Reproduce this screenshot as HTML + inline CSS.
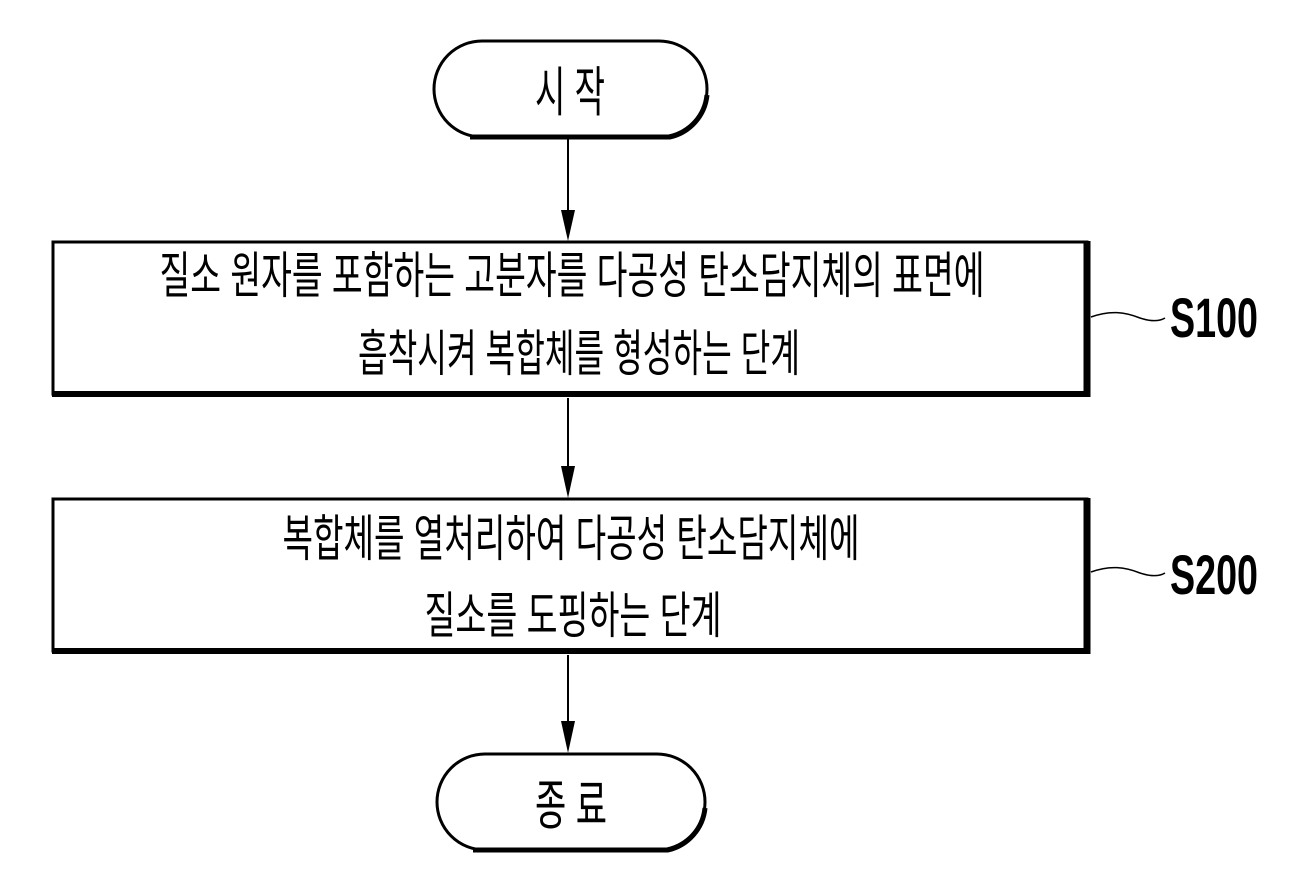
<!DOCTYPE html>
<html><head><meta charset="utf-8"><style>
html,body{margin:0;padding:0;background:#fff;}
svg{display:block;}
text{font-family:"Liberation Sans","Noto Sans CJK KR","NanumGothic",sans-serif;fill:#000;}
</style></head><body>
<svg width="1314" height="875" viewBox="0 0 1314 875" xmlns="http://www.w3.org/2000/svg">
<!-- start -->
<rect x="434" y="41" width="273" height="96" rx="48" ry="48" fill="#fff" stroke="#000" stroke-width="3"/>
<path d="M470,137 L670,137 A48,48 0 0 0 707,95" fill="none" stroke="#000" stroke-width="5"/>
<text x="570" y="111" font-size="54" text-anchor="middle" textLength="70" lengthAdjust="spacingAndGlyphs">시 작</text>
<!-- connectors -->
<line x1="568" y1="138" x2="568" y2="212" stroke="#000" stroke-width="2"/>
<polygon points="561,210 575,210 568,241" fill="#000"/>
<line x1="568" y1="398" x2="568" y2="468" stroke="#000" stroke-width="2"/>
<polygon points="561,466 575,466 568,498" fill="#000"/>
<line x1="568" y1="655" x2="568" y2="723" stroke="#000" stroke-width="2"/>
<polygon points="561,721 575,721 568,753" fill="#000"/>
<!-- box1 -->
<rect x="53" y="242" width="1034" height="152" fill="#fff" stroke="#000" stroke-width="3"/>
<line x1="1087" y1="241" x2="1087" y2="397" stroke="#000" stroke-width="7"/>
<line x1="52" y1="394" x2="1090" y2="394" stroke="#000" stroke-width="6"/>
<text x="572" y="293" font-size="50" text-anchor="middle" textLength="825" lengthAdjust="spacingAndGlyphs">질소 원자를 포함하는 고분자를 다공성 탄소담지체의 표면에</text>
<text x="579" y="371" font-size="50" text-anchor="middle" textLength="442" lengthAdjust="spacingAndGlyphs">흡착시켜 복합체를 형성하는 단계</text>
<path d="M1091,317 C1110,310 1125,312 1140,318 C1152,322 1160,321 1165,318" fill="none" stroke="#000" stroke-width="1.5"/>
<text x="1170" y="337" font-size="56" font-weight="bold" textLength="88" lengthAdjust="spacingAndGlyphs">S100</text>
<!-- box2 -->
<rect x="53" y="499" width="1034" height="152" fill="#fff" stroke="#000" stroke-width="3"/>
<line x1="1087" y1="498" x2="1087" y2="654" stroke="#000" stroke-width="7"/>
<line x1="52" y1="651" x2="1090" y2="651" stroke="#000" stroke-width="6"/>
<text x="571" y="556" font-size="50" text-anchor="middle" textLength="577" lengthAdjust="spacingAndGlyphs">복합체를 열처리하여 다공성 탄소담지체에</text>
<text x="573" y="633" font-size="50" text-anchor="middle" textLength="297" lengthAdjust="spacingAndGlyphs">질소를 도핑하는 단계</text>
<path d="M1091,572 C1110,565 1125,567 1140,573 C1152,577 1160,576 1165,573" fill="none" stroke="#000" stroke-width="1.5"/>
<text x="1170" y="594" font-size="56" font-weight="bold" textLength="88" lengthAdjust="spacingAndGlyphs">S200</text>
<!-- end -->
<rect x="437" y="754" width="268" height="96" rx="48" ry="48" fill="#fff" stroke="#000" stroke-width="3"/>
<path d="M473,850 L668,850 A48,48 0 0 0 705,808" fill="none" stroke="#000" stroke-width="5"/>
<text x="571" y="824" font-size="54" text-anchor="middle" textLength="72" lengthAdjust="spacingAndGlyphs">종 료</text>
</svg>
</body></html>
